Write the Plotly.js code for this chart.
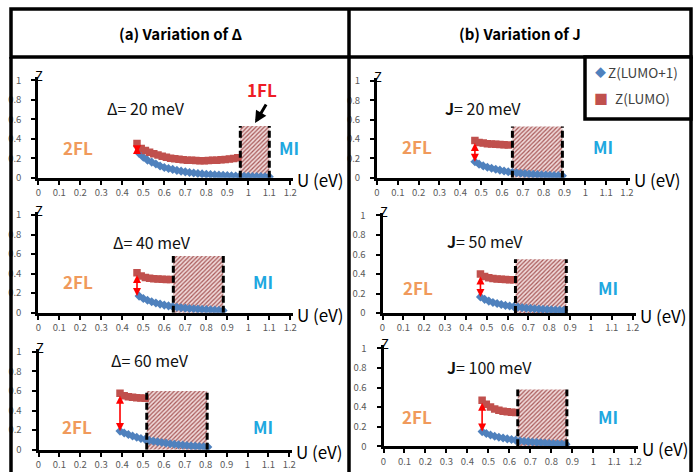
<!DOCTYPE html>
<html>
<head>
<meta charset="utf-8">
<script src="https://cdn.plot.ly/plotly-3.0.1.min.js"></script>
<style>html,body{margin:0;padding:0;background:#fff;}#chart{width:697px;height:472px;}</style>
</head>
<body>
<div id="chart"></div>
<script>
// ---------- DATA ----------
// (a) Δ = 20 meV
const uRedD20  = [0.47,0.49,0.51,0.53,0.55,0.57,0.59,0.61,0.63,0.65,0.67,0.69,0.71,0.73,0.75,0.77,0.79,0.81,0.83,0.85,0.87,0.89,0.91,0.93,0.95];
const zRedD20  = [0.35,0.30,0.28,0.26,0.245,0.232,0.22,0.21,0.20,0.195,0.19,0.185,0.18,0.178,0.176,0.175,0.175,0.176,0.178,0.18,0.183,0.187,0.192,0.198,0.205];
const uBlueD20 = [0.48,0.50,0.52,0.54,0.56,0.58,0.60,0.62,0.64,0.66,0.68,0.70,0.72,0.74,0.76,0.78,0.80,0.82,0.84,0.86,0.88,0.90,0.92,0.94,0.96,0.98,1.00,1.02,1.04,1.06,1.08,1.10];
const zBlueD20 = [0.25,0.21,0.18,0.16,0.14,0.12,0.105,0.095,0.085,0.075,0.067,0.06,0.054,0.048,0.043,0.039,0.035,0.032,0.029,0.026,0.024,0.022,0.02,0.018,0.016,0.015,0.014,0.013,0.012,0.011,0.01,0.009];
const bandD20 = [0.962, 1.10, 0.53];
// (b) J = 20 meV
const uRedJ20  = [0.47,0.49,0.51,0.53,0.55,0.57,0.59,0.61,0.63];
const zRedJ20  = [0.385,0.365,0.358,0.352,0.348,0.345,0.343,0.34,0.338];
const uBlueJ20 = [0.47,0.49,0.51,0.53,0.55,0.57,0.59,0.61,0.63,0.65,0.67,0.69,0.71,0.73,0.75,0.77,0.79,0.81,0.83,0.85,0.87,0.89];
const zBlueJ20 = [0.165,0.14,0.122,0.108,0.097,0.087,0.078,0.07,0.062,0.056,0.05,0.046,0.042,0.038,0.035,0.032,0.029,0.027,0.025,0.023,0.021,0.019];
const bandJ20 = [0.65, 0.89, 0.53];
// (a) Δ = 40 meV
const uRedD40  = [0.47,0.49,0.51,0.53,0.55,0.57,0.59,0.61,0.63];
const zRedD40  = [0.41,0.375,0.36,0.352,0.347,0.344,0.342,0.34,0.34];
const uBlueD40 = [0.48,0.50,0.52,0.54,0.56,0.58,0.60,0.62,0.64,0.66,0.68,0.70,0.72,0.74,0.76,0.78,0.80,0.82,0.84,0.86,0.88];
const zBlueD40 = [0.17,0.145,0.127,0.112,0.099,0.088,0.078,0.07,0.062,0.056,0.051,0.047,0.043,0.04,0.037,0.034,0.031,0.029,0.027,0.025,0.023];
const bandD40 = [0.643, 0.881, 0.58];
// (b) J = 50 meV
const uRedJ50  = [0.47,0.49,0.51,0.53,0.55,0.57,0.59,0.61,0.63];
const zRedJ50  = [0.40,0.375,0.362,0.355,0.35,0.347,0.344,0.342,0.34];
const uBlueJ50 = [0.47,0.49,0.51,0.53,0.55,0.57,0.59,0.61,0.63,0.65,0.67,0.69,0.71,0.73,0.75,0.77,0.79,0.81,0.83,0.85,0.87];
const zBlueJ50 = [0.165,0.14,0.122,0.108,0.097,0.087,0.078,0.071,0.065,0.06,0.055,0.05,0.047,0.044,0.041,0.038,0.035,0.033,0.031,0.029,0.027];
const bandJ50 = [0.638, 0.882, 0.55];
// (a) Δ = 60 meV
const uRedD60  = [0.39,0.41,0.43,0.45,0.47,0.49,0.51];
const zRedD60  = [0.575,0.55,0.54,0.535,0.53,0.527,0.525];
const uBlueD60 = [0.39,0.41,0.43,0.45,0.47,0.49,0.51,0.53,0.55,0.57,0.59,0.61,0.63,0.65,0.67,0.69,0.71,0.73,0.75,0.77,0.79,0.81];
const zBlueD60 = [0.19,0.17,0.155,0.14,0.127,0.115,0.105,0.095,0.087,0.08,0.073,0.067,0.061,0.056,0.051,0.047,0.043,0.039,0.036,0.033,0.03,0.027];
const bandD60 = [0.518, 0.807, 0.60];
// (b) J = 100 meV
const uRedJ100  = [0.47,0.49,0.51,0.53,0.55,0.57,0.59,0.61,0.63];
const zRedJ100  = [0.47,0.43,0.40,0.38,0.367,0.358,0.352,0.348,0.345];
const uBlueJ100 = [0.47,0.49,0.51,0.53,0.55,0.57,0.59,0.61,0.63,0.65,0.67,0.69,0.71,0.73,0.75,0.77,0.79,0.81,0.83,0.85,0.87];
const zBlueJ100 = [0.15,0.13,0.115,0.103,0.093,0.084,0.076,0.069,0.063,0.057,0.052,0.048,0.044,0.04,0.037,0.034,0.031,0.028,0.026,0.024,0.022];
const bandJ100 = [0.64, 0.874, 0.58];

const paramLabels = ['Δ= 20 meV','<b>J</b>= 20 meV','Δ= 40 meV','<b>J</b>= 50 meV','Δ= 60 meV','<b>J</b>= 100 meV'];
const seriesNames = ['Z(LUMO+1)','Z(LUMO)'];
const headers = ['(a) Variation of Δ','(b) Variation of J'];

// ---------- LAYOUT / STYLE ----------
const W = 697, H = 472;
const FONT = '"Noto Sans CJK KR", "Noto Sans", sans-serif';
const BLUE = '#4F81BD', RED = '#C0504D';
const panels = [
  {ur:uRedD20, zr:zRedD20, ub:uBlueD20, zb:zBlueD20, band:bandD20, g:{x0:38.3,sx:210,y0:177.7,sy:97.5}, lab:[0.513,0.715], fl:[0.19,0.31], mi:[1.195,0.31]},
  {ur:uRedJ20, zr:zRedJ20, ub:uBlueJ20, zb:zBlueJ20, band:bandJ20, g:{x0:377,sx:208.3,y0:177.7,sy:96.7}, lab:[0.509,0.72], fl:[0.19,0.32], mi:[1.085,0.32]},
  {ur:uRedD40, zr:zRedD40, ub:uBlueD40, zb:zBlueD40, band:bandD40, g:{x0:38.3,sx:210,y0:312.7,sy:97.7}, lab:[0.543,0.727], fl:[0.19,0.317], mi:[1.068,0.317]},
  {ur:uRedJ50, zr:zRedJ50, ub:uBlueJ50, zb:zBlueJ50, band:bandJ50, g:{x0:382.5,sx:208.4,y0:313,sy:97.5}, lab:[0.49,0.74], fl:[0.17,0.26], mi:[1.08,0.26]},
  {ur:uRedD60, zr:zRedD60, ub:uBlueD60, zb:zBlueD60, band:bandD60, g:{x0:38.5,sx:209,y0:449.7,sy:98}, lab:[0.533,0.915], fl:[0.184,0.235], mi:[1.074,0.235]},
  {ur:uRedJ100, zr:zRedJ100, ub:uBlueJ100, zb:zBlueJ100, band:bandJ100, g:{x0:383.5,sx:209.8,y0:446.3,sy:98}, lab:[0.503,0.81], fl:[0.16,0.30], mi:[1.07,0.30]}
];
const XR = [0, 1.215], YR = [0, 1.03];
const px = v => v / W, py = v => 1 - v / H;

const traces = [];
const layout = {
  width: W, height: H, margin:{l:0,r:0,t:0,b:0},
  paper_bgcolor:'#fff', plot_bgcolor:'rgba(0,0,0,0)',
  showlegend:false, font:{family:FONT, color:'#000'},
  annotations:[], shapes:[]
};
const A = layout.annotations;
function note(o) { A.push(Object.assign({showarrow:false, xanchor:'center', yanchor:'middle'}, o)); }

panels.forEach((p, i) => {
  const n = i + 1, xa = 'x' + (n === 1 ? '' : n), ya = 'y' + (n === 1 ? '' : n);
  const g = p.g;
  const xd = [g.x0 / W, (g.x0 + XR[1] * g.sx) / W];
  const yd = [1 - g.y0 / H, 1 - (g.y0 - YR[1] * g.sy) / H];
  const common = {showline:true, linewidth:3, linecolor:'#000', ticks:'outside', ticklen:4, tickwidth:2,
    tickcolor:'#000', showgrid:false, zeroline:false, fixedrange:true,
    tickfont:{size:9.5, color:'#595959', family:FONT}};
  layout['xaxis' + (n === 1 ? '' : n)] = Object.assign({domain:xd, anchor:ya, range:XR, tick0:0, dtick:0.1}, common);
  layout['yaxis' + (n === 1 ? '' : n)] = Object.assign({domain:yd, anchor:xa, range:YR, tick0:0, dtick:0.2, ticklabelstandoff:8}, common);

  const [b0, b1, h] = p.band;
  traces.push({x:[b0,b0,b1,b1,b0], y:[0,h,h,0,0], xaxis:xa, yaxis:ya, mode:'lines', fill:'toself',
    line:{width:0, color:'rgba(0,0,0,0)'}, fillcolor:'#E8CACA',
    fillpattern:{shape:'/', bgcolor:'#EFD9D9', fgcolor:'#A85858', size:3, solidity:0.4},
    hoverinfo:'skip', showlegend:false});
  traces.push({x:p.ub, y:p.zb, xaxis:xa, yaxis:ya, mode:'markers', name:seriesNames[0],
    marker:{symbol:'diamond', size:7, color:BLUE}, showlegend:false});
  traces.push({x:p.ur, y:p.zr, xaxis:xa, yaxis:ya, mode:'markers', name:seriesNames[1],
    marker:{symbol:'square', size:7.5, color:RED}, showlegend:false});
  [b0, b1].forEach(b => traces.push({x:[b,b], y:[0,h], xaxis:xa, yaxis:ya, mode:'lines',
    line:{color:'#000', width:3, dash:'7px,3px'}, hoverinfo:'skip', showlegend:false}));

  note({xref:xa, yref:ya, x:p.lab[0], y:p.lab[1], text:paramLabels[i], font:{size:16, color:'#111'}});
  note({xref:xa, yref:ya, x:p.fl[0], y:p.fl[1], text:'<b>2FL</b>', font:{size:17, color:'#F09A5C'}});
  note({xref:xa, yref:ya, x:p.mi[0], y:p.mi[1], text:'<b>MI</b>', font:{size:17, color:'#1FA8E0'}});
  // axis names, placed in page coordinates next to each axis end
  note({xref:'paper', yref:'paper', x:px(g.x0 + 1), y:py(g.y0 - 1.045 * g.sy), text:'Z', borderpad:0, font:{size:13, color:'#000'}});
  note({xref:'paper', yref:'paper', x:px(g.x0 + XR[1] * g.sx + 2), y:py(g.y0 + 2), xanchor:'left', text:'U (eV)', font:{size:17, color:'#000'}});
  // red double arrow between the first points of the two series
  A.push({xref:xa, yref:ya, axref:xa, ayref:ya, x:p.ur[0], y:p.zb[0], ax:p.ur[0], ay:p.zr[0] - 0.01,
    text:'', showarrow:true, arrowside:'end+start', arrowhead:2, startarrowhead:2, arrowsize:1, startarrowsize:1,
    arrowwidth:1.6, arrowcolor:'#FF0000', standoff:0, startstandoff:0});
});

// 1FL marker in panel (a) Δ=20
note({xref:'x', yref:'y', x:1.065, y:0.9, text:'<b>1FL</b>', font:{size:17, color:'#EE1C25'}});
A.push({xref:'x', yref:'y', axref:'x', ayref:'y', x:1.032, y:0.56, ax:1.089, ay:0.766, text:'',
  showarrow:true, arrowhead:2, arrowsize:0.8, arrowwidth:3, arrowcolor:'#000', standoff:0});

// headers
note({xref:'paper', yref:'paper', x:px(180), y:py(33), text:'<b>'+headers[0]+'</b>', font:{size:15, color:'#000'}});
note({xref:'paper', yref:'paper', x:px(520), y:py(33), text:'<b>'+headers[1]+'</b>', font:{size:15, color:'#000'}});

// frames
const frameLine = {color:'#000', width:3.5};
const S = layout.shapes;
S.push({type:'rect', xref:'paper', yref:'paper', x0:px(11), x1:px(691), y0:py(57), y1:py(9), line:frameLine});
S.push({type:'line', xref:'paper', yref:'paper', x0:px(349), x1:px(349), y0:py(9), y1:py(472), line:frameLine});
S.push({type:'line', xref:'paper', yref:'paper', x0:px(11), x1:px(11), y0:py(57), y1:py(472), line:frameLine});
S.push({type:'line', xref:'paper', yref:'paper', x0:px(691), x1:px(691), y0:py(57), y1:py(472), line:frameLine});
// legend box
S.push({type:'rect', xref:'paper', yref:'paper', x0:px(585), x1:px(691), y0:py(119), y1:py(57), line:frameLine, fillcolor:'#fff', layer:'above'});
note({xref:'paper', yref:'paper', x:px(600), y:py(72), text:'◆', font:{size:11, color:BLUE}});
note({xref:'paper', yref:'paper', x:px(606), y:py(72), xanchor:'left', text:seriesNames[0], font:{size:13.5, color:'#404040'}});
note({xref:'paper', yref:'paper', x:px(601), y:py(98), text:'■', font:{size:14, color:RED}});
note({xref:'paper', yref:'paper', x:px(613), y:py(98), xanchor:'left', text:seriesNames[1], font:{size:13.5, color:'#404040'}});

Plotly.newPlot('chart', traces, layout, {staticPlot:true, displayModeBar:false});
</script>
</body>
</html>
